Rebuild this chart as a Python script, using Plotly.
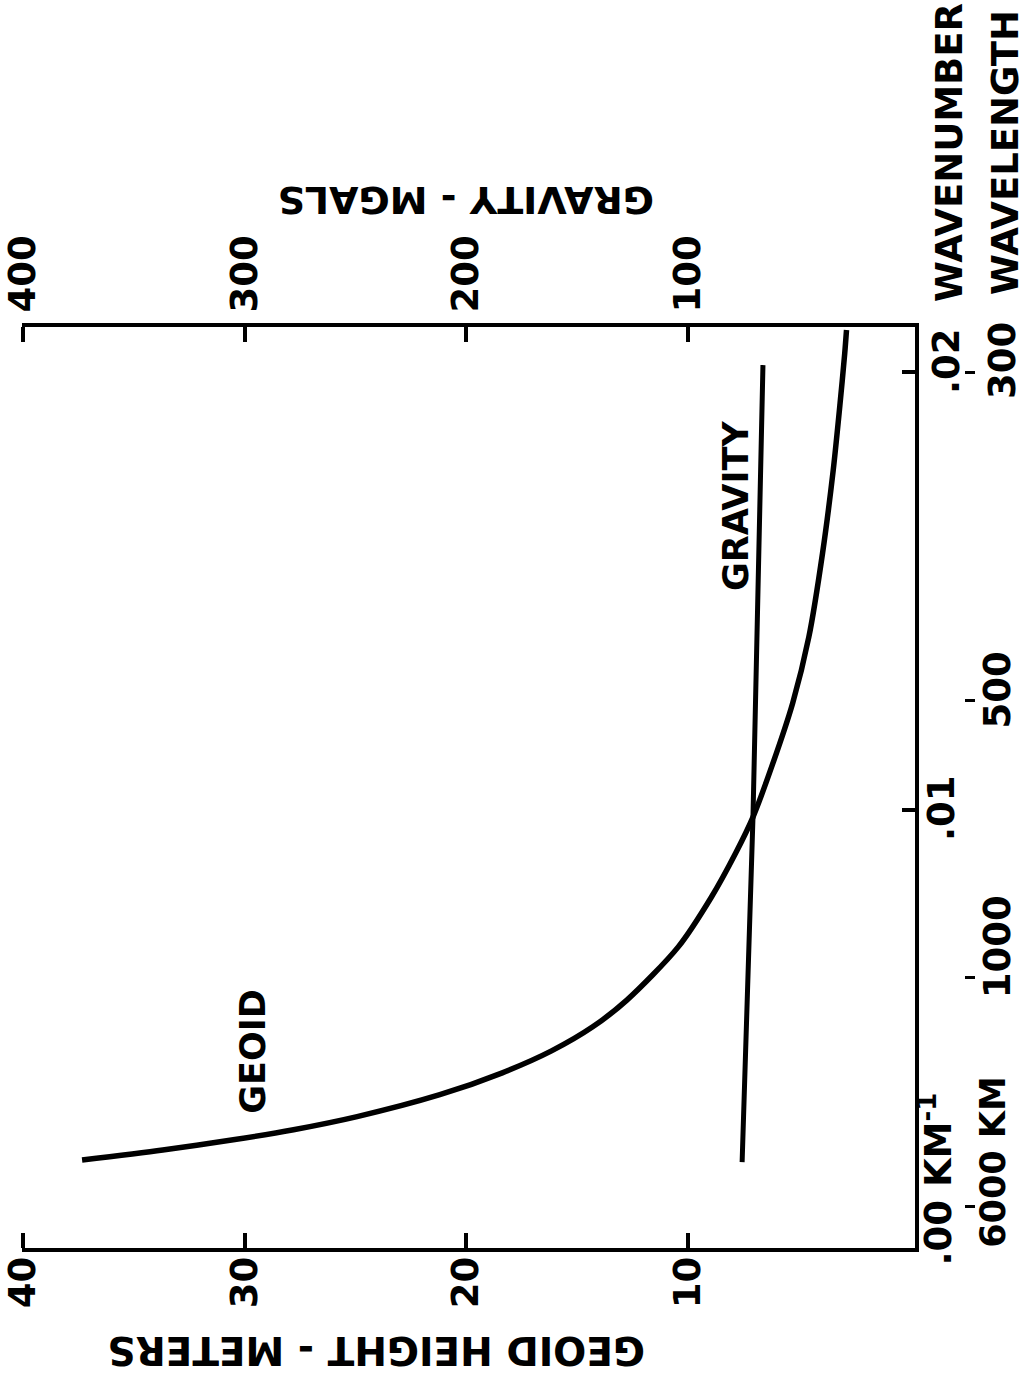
import plotly.graph_objects as go

# ---- data ----
geoid_wavenumber = [0.00201, 0.00224, 0.00247, 0.00270, 0.00300, 0.00350, 0.00400, 0.00450,
                    0.00505, 0.00566, 0.00687, 0.00801, 0.00902, 0.00984, 0.01107, 0.01244,
                    0.01395, 0.01587, 0.01776, 0.01929, 0.02043, 0.02096]
geoid_height_m = [37.34, 33.70, 30.52, 27.80, 24.93, 21.20, 18.38, 16.16,
                  14.30, 12.76, 10.45, 8.95, 7.85, 7.07, 6.17, 5.28,
                  4.55, 3.93, 3.45, 3.14, 2.93, 2.85]

gravity_wavenumber = [0.00196, 0.00984, 0.02016]
gravity_mgal = [75.6, 70.7, 66.2]

geoid_ticks = [10, 20, 30, 40]
geoid_ticktext = ["10", "20", "30", "40"]
gravity_ticks = [100, 200, 300, 400]
gravity_ticktext = ["100", "200", "300", "400"]
wavenumber_ticks = [0.0, 0.01, 0.02]
wavenumber_labels = [".00 KM<sup>-1</sup>", ".01", ".02"]
wavelength_ticks = [0.00094, 0.00618, 0.0125, 0.0200]
wavelength_labels = ["6000 KM", "1000", "500", "300"]

# ---- styles ----
FONT = "DejaVu Sans"
INK = "black"
L, R, T, B = 22, 5, 327, 132
W, H = 1030, 1380
PW = W - L - R
PH = H - T - B
plot_right = 915
xdom = (plot_right - L) / PW


def px(xpix):
    return (xpix - L) / PW


def py(ypix):
    return (H - B - ypix) / PH


fig = go.Figure()
fig.add_trace(go.Scatter(x=geoid_height_m, y=geoid_wavenumber, mode="lines",
                         line=dict(color=INK, width=5.5, shape="spline", smoothing=0.8),
                         xaxis="x", yaxis="y", showlegend=False, hoverinfo="skip"))
fig.add_trace(go.Scatter(x=gravity_mgal, y=gravity_wavenumber, mode="lines",
                         line=dict(color=INK, width=5),
                         xaxis="x2", yaxis="y", showlegend=False, hoverinfo="skip"))
fig.add_trace(go.Scatter(x=[20], y=[0.01], xaxis="x", yaxis="y2", mode="markers",
                         marker=dict(opacity=0), showlegend=False, hoverinfo="skip"))

tickfont = dict(family=FONT, size=37, color=INK, weight="bold")
yr = [0, 0.02103]

common = dict(showgrid=False, zeroline=False, automargin=False)
fig.update_layout(
    width=W, height=H,
    margin=dict(l=L, r=R, t=T, b=B),
    paper_bgcolor="white", plot_bgcolor="white",
    xaxis=dict(domain=[0, xdom], range=[40.05, -0.24], tickvals=geoid_ticks, ticktext=geoid_ticktext,
               ticks="inside", ticklen=15, tickwidth=4, tickcolor=INK, tickangle=-90,
               showline=True, linewidth=4, linecolor=INK, ticklabelstandoff=-10,
               tickfont=tickfont, side="bottom", anchor="y", **common),
    xaxis2=dict(domain=[0, xdom], range=[400.5, -2.4], tickvals=gravity_ticks, ticktext=gravity_ticktext,
                ticks="inside", ticklen=15, tickwidth=4, tickcolor=INK, tickangle=-90,
                showline=True, linewidth=4, linecolor=INK, ticklabelstandoff=3,
                tickfont=tickfont, side="top", overlaying="x", anchor="y", **common),
    yaxis=dict(range=yr, tickvals=wavenumber_ticks, showticklabels=False,
               ticks="inside", ticklen=13, tickwidth=4, tickcolor=INK,
               showline=True, linewidth=4, linecolor=INK,
               side="right", anchor="x", **common),
    yaxis2=dict(range=yr, tickvals=wavelength_ticks, showticklabels=False,
                ticks="outside", ticklen=10, tickwidth=3, tickcolor=INK,
                showline=False, side="right", anchor="free", position=px(964),
                overlaying="y", **common),
)

ann = []
wn_x = [px(936), px(941), px(946)]
wn_anchor = ["bottom", "middle", "middle"]
wn_shift = [-20, 2, 11]
for v, t, xx, ya, ys in zip(wavenumber_ticks, wavenumber_labels, wn_x, wn_anchor, wn_shift):
    ann.append(dict(x=xx, y=v, xref="paper", yref="y", text=t, textangle=-90, showarrow=False,
                    xanchor="center", yanchor=ya, yshift=ys, font=tickfont))

wl_x = [px(993), px(997), px(998), px(1002)]
wl_anchor = ["bottom", "middle", "middle", "middle"]
wl_shift = [-43, 30, 10, 11]
wl_size = [35, 37, 37, 37]
for v, t, xx, ya, ys, fs in zip(wavelength_ticks, wavelength_labels, wl_x, wl_anchor, wl_shift, wl_size):
    ann.append(dict(x=xx, y=v, xref="paper", yref="y", text=t, textangle=-90, showarrow=False,
                    xanchor="center", yanchor=ya, yshift=ys, font=dict(tickfont, size=fs)))

titlefont = dict(family=FONT, size=38, color=INK, weight="bold")
axfont = dict(family=FONT, size=37, color=INK, weight="bold")
labfont = dict(family=FONT, size=35, color=INK, weight="bold")
ann += [
    dict(x=px(466), y=py(200), xref="paper", yref="paper", text="GRAVITY - MGALS",
         textangle=180, showarrow=False, xanchor="center", yanchor="middle", font=titlefont),
    dict(x=px(377), y=py(1351), xref="paper", yref="paper", text="GEOID HEIGHT - METERS",
         textangle=180, showarrow=False, xanchor="center", yanchor="middle",
         font=dict(titlefont, size=39)),
    dict(x=px(950), y=py(153), xref="paper", yref="paper", text="WAVENUMBER",
         textangle=-90, showarrow=False, xanchor="center", yanchor="middle", font=axfont),
    dict(x=px(1006), y=py(153), xref="paper", yref="paper", text="WAVELENGTH",
         textangle=-90, showarrow=False, xanchor="center", yanchor="middle", font=axfont),
    dict(x=29.63, y=0.00448, xref="x", yref="y", text="GEOID", textangle=-90, showarrow=False,
         xanchor="center", yanchor="middle", font=labfont),
    dict(x=7.84, y=0.01694, xref="x", yref="y", text="GRAVITY", textangle=-90, showarrow=False,
         xanchor="center", yanchor="middle", font=labfont),
]
fig.update_layout(annotations=ann)

fig.write_html("out.html", config={"displayModeBar": False},
               post_script="document.body.style.margin='0px';")
